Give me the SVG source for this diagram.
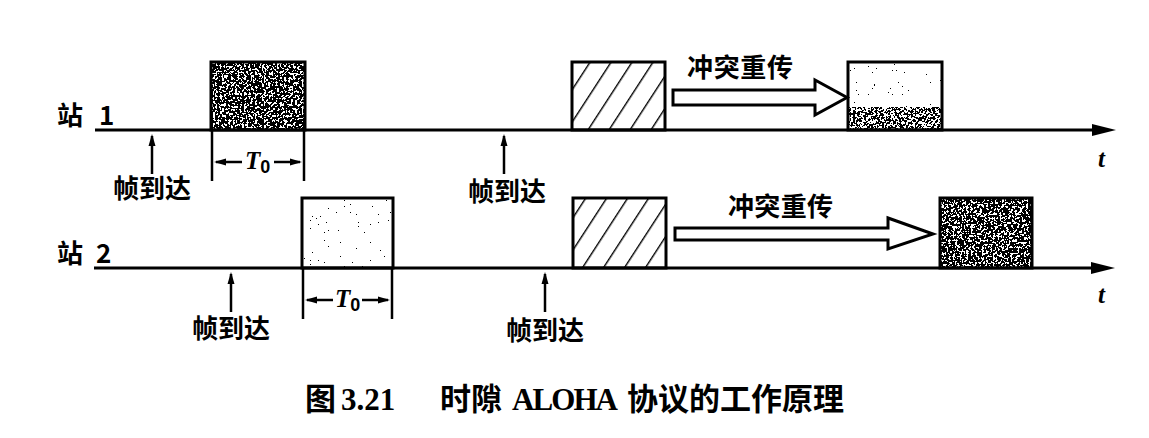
<svg xmlns="http://www.w3.org/2000/svg" width="1149" height="438" viewBox="0 0 1149 438">
<style>
.lbl{font-family:"Noto Sans CJK SC","Liberation Sans",sans-serif;font-weight:700;font-size:26px;fill:#000}
.cap{font-family:"Liberation Serif","Noto Sans CJK SC",serif;font-weight:700;font-size:31px;fill:#000}
.t{font-family:"Liberation Serif",serif;font-style:italic;font-weight:700;font-size:25px;fill:#000}
.axis{stroke:#000;stroke-width:3;fill:none}
.thin{stroke:#000;stroke-width:2.5;fill:none}
.box{fill:none;stroke:#000;stroke-width:3}
.hollow{fill:#fff;stroke:#000;stroke-width:3;stroke-linejoin:miter}
</style>
<defs>
<marker id="axisHead" markerUnits="userSpaceOnUse" markerWidth="24" markerHeight="14" refX="12" refY="7" orient="auto">
<path d="M0,1 L24,7 L0,13 z" fill="#000"/>
</marker>
<marker id="smallHead" markerUnits="userSpaceOnUse" markerWidth="12" markerHeight="8" refX="10" refY="4" orient="auto">
<path d="M0,0.5 L12,4 L0,7.5 z" fill="#000"/>
</marker>
<pattern id="hatch" patternUnits="userSpaceOnUse" width="17.6" height="17.6" patternTransform="rotate(33)">
<line x1="0" y1="0" x2="0" y2="17.6" stroke="#000" stroke-width="2.8"/>
</pattern>
<filter id="noiseDense" x="0" y="0" width="1" height="1">
<feTurbulence type="fractalNoise" baseFrequency="0.45" numOctaves="2" seed="4"/>
<feColorMatrix type="matrix" values="0 0 0 0 0  0 0 0 0 0  0 0 0 0 0  1 0 0 0 0"/>
<feComponentTransfer><feFuncA type="discrete" tableValues="0 0 0 0 0 0 0 0 0 1 1 1 1 1 1 1 1 1 1 1"/></feComponentTransfer>
</filter>
<filter id="noiseMid" x="0" y="0" width="1" height="1">
<feTurbulence type="fractalNoise" baseFrequency="0.45" numOctaves="2" seed="9"/>
<feColorMatrix type="matrix" values="0 0 0 0 0  0 0 0 0 0  0 0 0 0 0  1 0 0 0 0"/>
<feComponentTransfer><feFuncA type="discrete" tableValues="0 0 0 0 0 0 0 0 0 0 1 1 1 1 1 1 1 1 1 1"/></feComponentTransfer>
</filter>
<filter id="noiseLight" x="0" y="0" width="1" height="1">
<feTurbulence type="fractalNoise" baseFrequency="0.5" numOctaves="2" seed="17"/>
<feColorMatrix type="matrix" values="0 0 0 0 0  0 0 0 0 0  0 0 0 0 0  1 0 0 0 0"/>
<feComponentTransfer><feFuncA type="discrete" tableValues="0 0 0 0 0 0 0 0 0 0 0 0 0 0 0 1 1 1 1 1"/></feComponentTransfer>
</filter>
</defs>
<rect width="1149" height="438" fill="#fff"/>

<g id="station1-label"><text class="lbl" x="57" y="125">站</text><text class="lbl" x="99" y="125">1</text></g>
<g id="station2-label"><text class="lbl" x="57" y="263">站</text><text class="lbl" x="96" y="263">2</text></g>

<g id="s1-frame1">
<rect x="211" y="62" width="94" height="68" fill="#fff"/>
<rect x="212" y="63" width="92" height="66" filter="url(#noiseDense)"/>
<rect class="box" x="211" y="62" width="94" height="68"/>
</g>
<g id="s1-collision">
<rect x="572" y="62" width="93" height="68" fill="url(#hatch)"/>
<rect class="box" x="572" y="62" width="93" height="68"/>
</g>
<g id="s1-retx">
<rect x="848" y="62" width="94" height="68" fill="#fff"/>
<rect x="849" y="63" width="92" height="44" filter="url(#noiseLight)"/>
<rect x="849" y="107" width="92" height="22" filter="url(#noiseMid)"/>
<rect class="box" x="848" y="62" width="94" height="68"/>
</g>
<g id="s2-frame1">
<rect x="302" y="198" width="91" height="70" fill="#fff"/>
<rect x="303" y="199" width="89" height="68" filter="url(#noiseLight)"/>
<rect class="box" x="302" y="198" width="91" height="70"/>
</g>
<g id="s2-collision">
<rect x="573" y="198" width="93" height="70" fill="url(#hatch)"/>
<rect class="box" x="573" y="198" width="93" height="70"/>
</g>
<g id="s2-retx">
<rect x="940" y="198" width="92" height="70" fill="#fff"/>
<rect x="941" y="199" width="90" height="68" filter="url(#noiseDense)"/>
<rect class="box" x="940" y="198" width="92" height="70"/>
</g>

<g id="connectors">
<line class="axis" x1="95" y1="130" x2="1104" y2="130" marker-end="url(#axisHead)"/>
<line class="axis" x1="94" y1="268" x2="1103" y2="268" marker-end="url(#axisHead)"/>
<line class="thin" x1="152" y1="174" x2="152" y2="136" marker-end="url(#smallHead)"/>
<line class="thin" x1="504" y1="174" x2="504" y2="136" marker-end="url(#smallHead)"/>
<line class="thin" x1="231" y1="312" x2="231" y2="274" marker-end="url(#smallHead)"/>
<line class="thin" x1="545" y1="312" x2="545" y2="274" marker-end="url(#smallHead)"/>
<line class="thin" x1="212" y1="130" x2="212" y2="181"/>
<line class="thin" x1="304" y1="130" x2="304" y2="181"/>
<line class="thin" x1="242" y1="162" x2="216" y2="162" marker-end="url(#smallHead)"/>
<line class="thin" x1="274" y1="162" x2="300" y2="162" marker-end="url(#smallHead)"/>
<line class="thin" x1="303" y1="268" x2="303" y2="319"/>
<line class="thin" x1="392" y1="268" x2="392" y2="319"/>
<line class="thin" x1="333" y1="300" x2="307" y2="300" marker-end="url(#smallHead)"/>
<line class="thin" x1="362" y1="300" x2="388" y2="300" marker-end="url(#smallHead)"/>
<path class="hollow" d="M673,90 L815,90 L815,80 L847,97.5 L815,115 L815,105 L673,105 Z"/>
<path class="hollow" d="M675,228 L888,228 L888,218 L933,234 L888,249 L888,240 L675,240 Z"/>
</g>

<g id="labels">
<text class="lbl" x="152" y="198" text-anchor="middle">帧到达</text>
<text class="lbl" x="507" y="201" text-anchor="middle">帧到达</text>
<text class="lbl" x="231" y="338" text-anchor="middle">帧到达</text>
<text class="lbl" x="545" y="340" text-anchor="middle">帧到达</text>
<text class="lbl" x="687" y="77" textLength="106">冲突重传</text>
<text class="lbl" x="728" y="216" textLength="105">冲突重传</text>
<text class="t" x="245" y="169">T<tspan font-style="normal" font-family="Liberation Sans, sans-serif" font-size="18" dy="4">0</tspan></text>
<text class="t" x="335" y="307">T<tspan font-style="normal" font-family="Liberation Sans, sans-serif" font-size="18" dy="4">0</tspan></text>
<text class="t" x="1098" y="167">t</text>
<text class="t" x="1098" y="303">t</text>
</g>

<g id="caption">
<text class="cap" x="305" y="410">图</text>
<text class="cap" x="341" y="410">3.21</text>
<text class="cap" x="440" y="410">时隙</text>
<text class="cap" x="512" y="410" textLength="106">ALOHA</text>
<text class="cap" x="627" y="410">协议的工作原理</text>
</g>
</svg>
